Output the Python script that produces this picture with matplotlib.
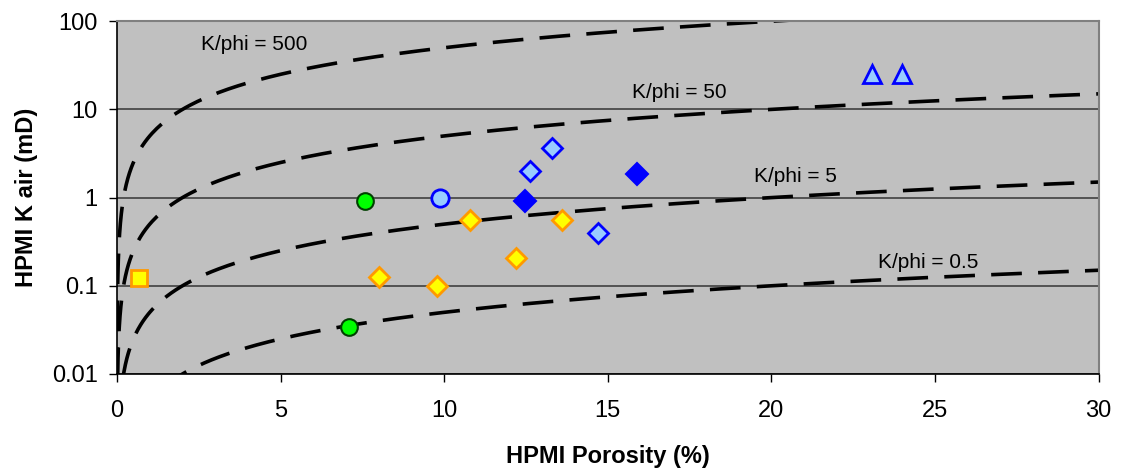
import numpy as np
import matplotlib.pyplot as plt

plt.rcParams.update({
    'font.family': ['Liberation Sans', 'DejaVu Sans'],
    'font.size': 14,
})

# K/phi reference lines (phi in %, K = ratio * phi / 100)
RATIOS = [500, 50, 5, 0.5]
RATIO_LABELS = ['K/phi = 500', 'K/phi = 50', 'K/phi = 5', 'K/phi = 0.5']
LABEL_X = [4.2, 17.2, 20.75, 24.8]
LABEL_Y = [54, 15.5, 1.73, 0.184]

# sample groups
sq_phi = [0.67]
sq_k = [0.121]

green_phi = [7.58, 7.09]
green_k = [0.92, 0.0337]

ltcirc_phi = [9.87]
ltcirc_k = [1.0]

yel_phi = [10.79, 8.0, 9.78, 12.19, 13.6]
yel_k = [0.56, 0.127, 0.10, 0.209, 0.56]

blue_phi = [12.47, 15.89]
blue_k = [0.92, 1.87]

ltdia_phi = [12.62, 13.29, 14.7]
ltdia_k = [2.02, 3.68, 0.40]

tri_phi = [23.07, 23.98]
tri_k = [25.4, 25.0]

fig = plt.figure(figsize=(11.21, 4.71), dpi=100)
ax = fig.add_axes([0.1044, 0.206, 0.8756, 0.749])
ax.set_facecolor('#C0C0C0')

phi = np.concatenate([np.geomspace(1e-4, 1, 400), np.linspace(1, 30, 400)[1:]])
for r in RATIOS:
    ax.plot(phi, r * phi / 100, color='black', lw=2.6, dashes=(8.5, 4.5),
            solid_capstyle='butt', zorder=2)

for t, x, y in zip(RATIO_LABELS, LABEL_X, LABEL_Y):
    ax.text(x, y, t, ha='center', va='center', fontsize=15, zorder=3)

mk = dict(linestyle='none', zorder=5)
ax.plot(sq_phi, sq_k, marker='s', ms=12, mfc='#FFFF00', mec='#FF9900', mew=2, **mk)
ax.plot(green_phi, green_k, marker='o', ms=12, mfc='#00FF00', mec='#004000', mew=1.5, **mk)
ax.plot(ltcirc_phi, ltcirc_k, marker='o', ms=12.5, mfc='#99CCFF', mec='#0000FF', mew=2, **mk)
ax.plot(yel_phi, yel_k, marker='D', ms=10, mfc='#FFFF00', mec='#FF9900', mew=2, **mk)
ax.plot(blue_phi, blue_k, marker='D', ms=11, mfc='#0000FF', mec='#0000FF', mew=1.5, **mk)
ax.plot(ltdia_phi, ltdia_k, marker='D', ms=10, mfc='#99CCFF', mec='#0000FF', mew=2, **mk)
ax.plot(tri_phi, tri_k, marker='^', ms=13.5, mfc='#99CCFF', mec='#0000FF', mew=2, **mk)

ax.set_yscale('log')
ax.set_xlim(0, 30)
ax.set_ylim(0.01, 100)
ax.set_xticks(range(0, 31, 5))
ax.set_yticks([0.01, 0.1, 1, 10, 100])
ax.set_yticklabels(['0.01', '0.1', '1', '10', '100'])
ax.yaxis.set_minor_locator(plt.NullLocator())
ax.tick_params(axis='both', direction='out', length=6, width=1, labelsize=17,
               color='black')
ax.tick_params(axis='x', pad=13)
ax.tick_params(axis='y', pad=8)

ax.yaxis.grid(True, color='#404040', lw=1.2)
ax.set_axisbelow(True)

for s in ['top', 'right']:
    ax.spines[s].set_color('#808080')
    ax.spines[s].set_linewidth(1.5)
for s in ['left', 'bottom']:
    ax.spines[s].set_color('black')
    ax.spines[s].set_linewidth(1.2)

ax.set_xlabel('HPMI Porosity (%)', fontsize=17, fontweight='bold', labelpad=16)
ax.set_ylabel('HPMI K air (mD)', fontsize=17, fontweight='bold', labelpad=10)

fig.savefig('out.png', dpi=100, facecolor='white')
